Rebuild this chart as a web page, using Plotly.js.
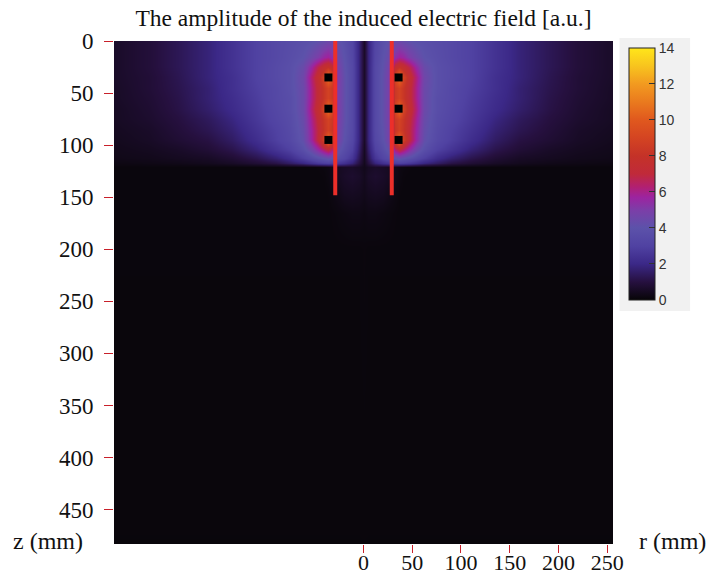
<!DOCTYPE html>
<html>
<head>
<meta charset="utf-8">
<script src="https://cdn.plot.ly/plotly-3.0.1.min.js"></script>
<style>html,body{margin:0;padding:0;background:#fff;}#chart{width:710px;height:578px;}</style>
</head>
<body>
<div id="chart"></div>
<script>
// radial positions (mm) of the grid columns for r >= 0 (the map is mirrored about r = 0)
const rHalf = [0, 5, 12, 20, 27, 32, 36, 41, 47, 54, 62, 75, 90, 110, 135, 160, 190, 220, 256];
// depth positions (mm) of the grid rows
const zRows = [0, 15, 25, 35, 45, 55, 65, 75, 85, 95, 104, 112, 117, 121, 130, 145, 165, 200, 483];
// field amplitude [a.u.], one row per zRows entry, columns per rHalf
const fieldHalf = [
  [0.6, 1.8, 3.2, 3.8, 4.2, 4.4, 4.5, 4.3, 4.1, 3.9, 3.8, 3.6, 3.4, 3.0, 2.4, 1.8, 1.3, 0.9, 0.6],
  [0.6, 1.8, 3.3, 4.0, 4.6, 5.4, 5.8, 5.6, 5.0, 4.5, 4.0, 3.7, 3.4, 3.0, 2.4, 1.8, 1.3, 0.9, 0.6],
  [0.6, 1.8, 3.4, 4.1, 5.0, 7.4, 8.0, 7.6, 6.8, 5.6, 4.4, 3.8, 3.5, 3.0, 2.4, 1.8, 1.3, 0.9, 0.6],
  [0.6, 1.8, 3.4, 4.2, 5.2, 9.2, 11.0, 9.0, 7.6, 6.2, 4.6, 3.8, 3.5, 3.0, 2.3, 1.8, 1.25, 0.85, 0.6],
  [0.6, 1.8, 3.4, 4.2, 5.1, 8.4, 8.9, 8.3, 7.3, 6.0, 4.5, 3.8, 3.4, 2.9, 2.3, 1.7, 1.2, 0.85, 0.55],
  [0.6, 1.8, 3.4, 4.2, 5.1, 8.4, 8.9, 8.3, 7.3, 6.0, 4.5, 3.7, 3.4, 2.8, 2.2, 1.7, 1.15, 0.8, 0.55],
  [0.6, 1.8, 3.4, 4.2, 5.2, 9.2, 11.0, 9.0, 7.6, 6.2, 4.5, 3.7, 3.3, 2.7, 2.1, 1.6, 1.1, 0.75, 0.5],
  [0.6, 1.8, 3.4, 4.2, 5.1, 8.4, 8.9, 8.3, 7.2, 5.9, 4.4, 3.6, 3.2, 2.6, 1.9, 1.4, 1.0, 0.7, 0.5],
  [0.6, 1.8, 3.4, 4.1, 5.0, 8.2, 8.8, 8.2, 7.0, 5.7, 4.3, 3.5, 3.0, 2.4, 1.7, 1.25, 0.9, 0.6, 0.45],
  [0.6, 1.8, 3.3, 4.0, 5.0, 9.0, 10.8, 8.8, 7.1, 5.6, 4.2, 3.4, 2.9, 2.2, 1.5, 1.05, 0.8, 0.55, 0.4],
  [0.5, 1.6, 3.0, 3.7, 4.4, 6.4, 7.2, 6.6, 5.6, 4.6, 3.8, 3.0, 2.5, 1.8, 1.2, 0.85, 0.6, 0.45, 0.35],
  [0.45, 1.3, 2.5, 3.2, 3.6, 4.1, 4.3, 4.1, 3.8, 3.4, 2.9, 2.2, 1.7, 1.2, 0.8, 0.55, 0.45, 0.35, 0.3],
  [0.4, 1.0, 1.8, 2.3, 2.6, 2.8, 2.9, 2.8, 2.6, 2.3, 1.9, 1.5, 1.1, 0.8, 0.55, 0.4, 0.3, 0.25, 0.2],
  [0.35, 0.5, 0.6, 0.55, 0.45, 0.3, 0.2, 0.15, 0.12, 0.1, 0.1, 0.1, 0.1, 0.1, 0.1, 0.1, 0.1, 0.1, 0.1],
  [0.4, 0.6, 0.7, 0.6, 0.45, 0.3, 0.18, 0.12, 0.1, 0.1, 0.1, 0.1, 0.1, 0.1, 0.1, 0.1, 0.1, 0.1, 0.1],
  [0.35, 0.45, 0.5, 0.45, 0.3, 0.2, 0.12, 0.1, 0.1, 0.1, 0.1, 0.1, 0.1, 0.1, 0.1, 0.1, 0.1, 0.1, 0.1],
  [0.2, 0.25, 0.25, 0.2, 0.15, 0.12, 0.1, 0.1, 0.1, 0.1, 0.1, 0.1, 0.1, 0.1, 0.1, 0.1, 0.1, 0.1, 0.1],
  [0.12, 0.1, 0.1, 0.1, 0.1, 0.1, 0.1, 0.1, 0.1, 0.1, 0.1, 0.1, 0.1, 0.1, 0.1, 0.1, 0.1, 0.1, 0.1],
  [0.08, 0.08, 0.08, 0.08, 0.08, 0.08, 0.08, 0.08, 0.08, 0.08, 0.08, 0.08, 0.08, 0.08, 0.08, 0.08, 0.08, 0.08, 0.08]
];
// coil conductor lines (r positions) and their depth extent
const coilR = [-29, 29];
const coilZ = [0, 148];
// black square markers (turn cross-sections)
const turnR = [-36, -36, -36, 36, 36, 36];
const turnZ = [35, 65, 95, 35, 65, 95];
// axis tick values / labels
const zTicks = [0, 50, 100, 150, 200, 250, 300, 350, 400, 450];
const rTicks = [0, 50, 100, 150, 200, 250];
const cbTicks = [0, 2, 4, 6, 8, 10, 12, 14];

// mirror the half-plane map about r = 0
const rFull = rHalf.slice(1).reverse().map(v => -v).concat(rHalf);
const fieldFull = fieldHalf.map(row => row.slice(1).reverse().concat(row));

const cs = [
  [0/14, '#070507'], [1/14, '#26103f'], [2/14, '#3b2887'], [3/14, '#5042a2'],
  [4/14, '#5c52aa'], [5/14, '#7c3ea8'], [5.7/14, '#9c24a0'], [6.3/14, '#b22070'],
  [7/14, '#c02a3a'], [8/14, '#c43228'], [9/14, '#d44422'], [10/14, '#e0581e'],
  [11/14, '#ea7a1e'], [12/14, '#f29a20'], [13/14, '#f8c41e'], [14/14, '#ffe61a']
];

const serif = '"Liberation Serif", "Times New Roman", serif';

const traces = [
  {
    type: 'heatmap', x: rFull, y: zRows, z: fieldFull,
    zmin: 0, zmax: 14, zsmooth: 'best', colorscale: cs,
    hoverinfo: 'skip',
    colorbar: {
      x: 1.014, xanchor: 'left', xref: 'paper',
      y: 0.7356, yanchor: 'middle', yref: 'paper',
      len: 0.541, lenmode: 'fraction', thickness: 26, thicknessmode: 'pixels',
      tickvals: cbTicks, ticks: 'inside', ticklen: 6, tickcolor: '#333',
      tickfont: {family: '"Liberation Sans", Arial, sans-serif', size: 14, color: '#333'},
      outlinecolor: '#222', outlinewidth: 1,
      bgcolor: '#f1f1f1', xpad: 9, ypad: 10
    }
  },
  {
    type: 'scatter', mode: 'lines', x: [coilR[0], coilR[0]], y: coilZ,
    line: {color: '#ec2f2a', width: 4}, hoverinfo: 'skip', showlegend: false
  },
  {
    type: 'scatter', mode: 'lines', x: [coilR[1], coilR[1]], y: coilZ,
    line: {color: '#ec2f2a', width: 4}, hoverinfo: 'skip', showlegend: false
  },
  {
    type: 'scatter', mode: 'markers', x: turnR, y: turnZ,
    marker: {symbol: 'square', size: 8, color: '#000'}, hoverinfo: 'skip', showlegend: false
  }
];

const layout = {
  width: 710, height: 578,
  margin: {l: 114, r: 97, t: 41, b: 34},
  paper_bgcolor: '#fff', plot_bgcolor: '#000',
  showlegend: false,
  title: {
    text: 'The amplitude of the induced electric field [a.u.]',
    font: {family: serif, size: 23.5, color: '#111'},
    x: 0.5, xref: 'paper', xanchor: 'center',
    y: 1 - 18/578, yref: 'container', yanchor: 'middle'
  },
  xaxis: {
    range: [-256, 256], tickvals: rTicks, ticks: 'outside', ticklen: 8, tickwidth: 1,
    tickcolor: '#c8202a', showgrid: false, zeroline: false, showline: false,
    tickfont: {family: serif, size: 22, color: '#111'}, ticklabelstandoff: -9, fixedrange: true
  },
  yaxis: {
    range: [483, 0], tickvals: zTicks, ticks: 'outside', ticklen: 9, tickwidth: 1,
    tickcolor: '#c8202a', showgrid: false, zeroline: false, showline: false,
    tickfont: {family: serif, size: 23, color: '#111'}, ticklabelstandoff: 6, fixedrange: true
  },
  xaxis2: {
    overlaying: 'x', side: 'top', anchor: 'y', range: [-256, 256],
    tickvals: [-200, -150, -100, -50, 50, 100, 150, 200, 250],
    ticks: 'inside', ticklen: 5, tickcolor: '#333', showticklabels: false,
    showgrid: false, zeroline: false, showline: false, fixedrange: true
  },
  yaxis2: {
    overlaying: 'y', side: 'right', anchor: 'x', range: [483, 0],
    tickvals: [50, 100], ticks: 'inside', ticklen: 5, tickcolor: '#333', showticklabels: false,
    showgrid: false, zeroline: false, showline: false, fixedrange: true
  },
  annotations: [
    {text: 'z (mm)', xref: 'paper', yref: 'paper', x: -0.132, y: 0.005,
     xanchor: 'center', yanchor: 'middle', showarrow: false,
     font: {family: serif, size: 24, color: '#111'}},
    {text: 'r (mm)', xref: 'paper', yref: 'paper', x: 1.12, y: 0.005,
     xanchor: 'center', yanchor: 'middle', showarrow: false,
     font: {family: serif, size: 24, color: '#111'}}
  ]
};

Plotly.newPlot('chart', traces, layout, {displayModeBar: false, staticPlot: true});
</script>
</body>
</html>
